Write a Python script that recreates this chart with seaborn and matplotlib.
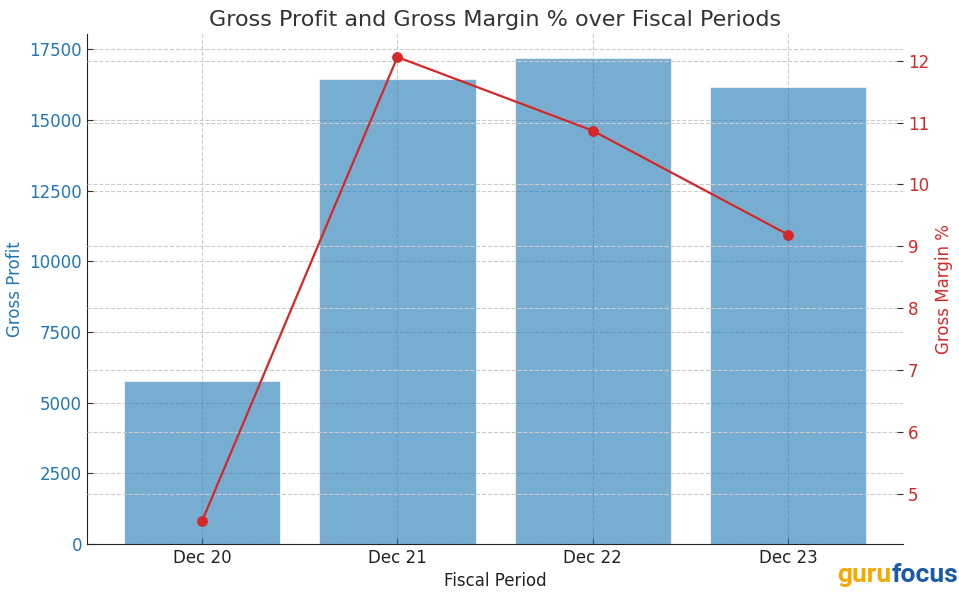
import numpy as np
import pandas as pd
import matplotlib
matplotlib.use("Agg")
import matplotlib.pyplot as plt
import seaborn as sns
from matplotlib import font_manager

# data
periods = ["Dec 20", "Dec 21", "Dec 22", "Dec 23"]
gross_profit = [5770, 16440, 17180, 16160]
gross_margin = [4.56, 12.06, 10.87, 9.19]

df = pd.DataFrame({"period": periods, "profit": gross_profit, "margin": gross_margin})
df["pos"] = np.arange(len(df))

sns.set_style("ticks")
plt.rcParams["font.family"] = ["DejaVu Sans"]

fig = plt.figure(figsize=(9.59, 5.96), dpi=100)
ax = fig.add_axes([0.0907, 0.0872, 0.851, 0.856])

blue = "#1f77b4"
red = "#d62728"

sns.barplot(data=df, x="pos", y="profit", color=blue, alpha=0.6, width=0.8, saturation=1,
            edgecolor="white", linewidth=0.8, ax=ax, native_scale=True)
ax.set_xlim(-0.59, len(df) - 0.41)
ax.set_xticks(df["pos"])
ax.set_xticklabels(periods, fontsize=12, color="#222222")
ax.set_xlabel("Fiscal Period", fontsize=12, color="#222222")
ax.set_ylabel("Gross Profit", fontsize=12, color=blue)
ax.tick_params(axis="y", labelcolor=blue, labelsize=12)
ax.tick_params(direction="in", length=4.5, color="#333333")
ax.grid(True, linestyle="--", color="#cccccc", linewidth=0.8)
ax.set_axisbelow(True)

ax2 = ax.twinx()
sns.lineplot(data=df, x="pos", y="margin", color=red, marker="o", markersize=7,
             markeredgecolor=red, linewidth=1.6, ax=ax2)
ax2.set_ylabel("Gross Margin %", fontsize=12, color=red)
ax2.tick_params(axis="y", labelcolor=red, labelsize=12, direction="in", length=4.5, color="#333333")
ax2.grid(True, axis="y", linestyle="--", color="#cccccc", linewidth=0.8)

for a in (ax, ax2):
    a.spines["top"].set_visible(False)
    a.spines["right"].set_visible(False)
for s in ("left", "bottom"):
    ax.spines[s].set_color("#222222")
ax2.spines["left"].set_visible(False)
ax2.spines["bottom"].set_visible(False)

ax.set_title("Gross Profit and Gross Margin % over Fiscal Periods", fontsize=16, color="#333333")

# gurufocus mark
names = {f.name for f in font_manager.fontManager.ttflist}
logo_font = "Liberation Sans Narrow" if "Liberation Sans Narrow" in names else "Roboto"
t1 = fig.text(0.873, 0.015, "guru", color="#f5a800", fontsize=19, fontweight="bold",
              family=logo_font, ha="left", va="bottom")
fig.canvas.draw()
bb = t1.get_window_extent().transformed(fig.transFigure.inverted())
fig.text(bb.x1, 0.015, "focus", color="#1a5aa8", fontsize=19, fontweight="bold",
         family=logo_font, ha="left", va="bottom")

fig.savefig("out.png", dpi=100)
